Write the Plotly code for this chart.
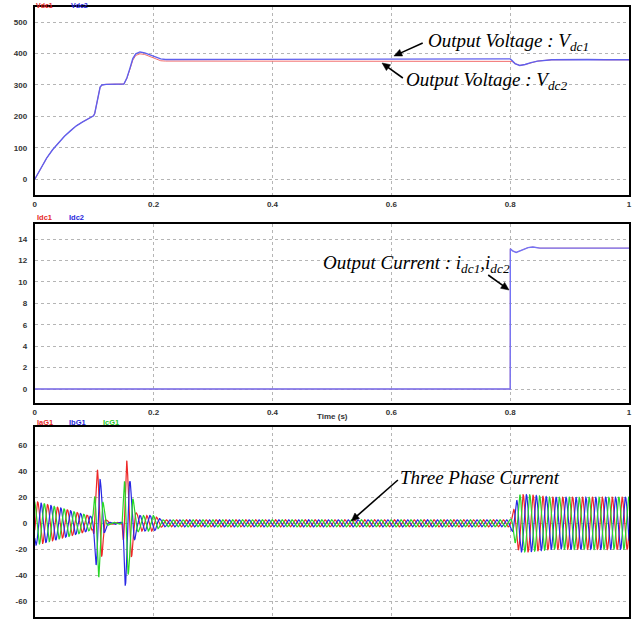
import numpy as np
import plotly.graph_objects as go

W, H = 643, 619

# ---------------- Panel 1: DC output voltages ----------------
t_v = [0, 0.01, 0.02, 0.03, 0.04, 0.05, 0.06, 0.07, 0.08, 0.09, 0.099, 0.101, 0.104, 0.107,
       0.110, 0.113, 0.120, 0.150, 0.155, 0.160, 0.165, 0.170, 0.177, 0.185, 0.195, 0.205,
       0.212, 0.220, 0.248, 0.252, 0.800, 0.803, 0.808, 0.816, 0.825, 0.835, 0.846, 0.870,
       0.900, 0.930, 0.960, 1.000]
vdc2 = [0, 36, 67, 94, 117, 137, 154, 170, 182, 193, 202, 210, 240, 275,
        293, 300, 302, 303, 322, 352, 384, 399, 405, 402, 394, 387,
        383, 381, 381, 383, 383, 378, 368, 362, 365, 371, 376, 380,
        381, 381, 380, 380]
vdc1 = [0, 36, 67, 94, 117, 137, 154, 170, 182, 193, 202, 210, 240, 275,
        293, 300, 302, 303, 321, 349, 379, 394, 399, 397, 389, 381,
        377, 376, 376, 376, 376, 375, 368, 362, 365, 371, 376, 380,
        381, 381, 380, 380]

# ---------------- Panel 2: DC output currents ----------------
t_i = [0, 0.8, 0.8002, 0.804, 0.81, 0.82, 0.83, 0.838, 0.85, 1.0]
idc1 = [0, 0, 13.1, 12.9, 12.75, 12.95, 13.2, 13.25, 13.15, 13.15]
idc2 = [0, 0, 13.1, 12.9, 12.75, 12.95, 13.2, 13.25, 13.15, 13.15]

# ---------------- Panel 3: three phase currents ----------------
# amplitude envelope, 60 Hz carrier, phase offsets in cycles
env_t = [0, 0.05, 0.098, 0.100, 0.104, 0.106, 0.108, 0.111, 0.114, 0.117, 0.120, 0.125,
         0.147, 0.149, 0.152, 0.155, 0.158, 0.161, 0.164, 0.167, 0.171, 0.175, 0.200,
         0.208, 0.215, 0.800, 0.803, 0.808, 0.815, 0.830, 0.870, 1.000]
env_a = [17, 11, 5, 20, 38, 43, 41, 31, 22, 9, 3, 0.8,
         0.8, 20, 48, 48, 37, 31, 23, 15, 8, 6, 6,
         4, 2.7, 2.7, 6, 15, 22, 22, 20, 20]
grid_freq = 60.0
phase_names = ["IaG1", "IbG1", "IcG1"]
phase_offsets = [-0.05, -0.383, 0.283]
phase_colors = ["rgb(238,40,40)", "rgb(40,40,228)", "rgb(40,215,40)"]

t_ph = np.arange(0, 1.0001, 0.0002)
amp = np.interp(t_ph, env_t, env_a)

# axis ticks
x_ticks = [0, 0.2, 0.4, 0.6, 0.8, 1.0]
x_tick_text = ["0", "0.2", "0.4", "0.6", "0.8", "1"]
y1_ticks = [0, 100, 200, 300, 400, 500]
y2_ticks = [0, 2, 4, 6, 8, 10, 12, 14]
y3_ticks = [-60, -40, -20, 0, 20, 40, 60]

fig = go.Figure()
fig.add_trace(go.Scatter(x=t_v, y=vdc1, mode="lines", line=dict(color="rgb(242,110,110)", width=1.0),
                         xaxis="x", yaxis="y", name="Vdc1"))
fig.add_trace(go.Scatter(x=t_v, y=vdc2, mode="lines", line=dict(color="rgb(95,95,238)", width=1.4),
                         xaxis="x", yaxis="y", name="Vdc2"))
fig.add_trace(go.Scatter(x=t_i, y=idc1, mode="lines", line=dict(color="rgb(242,110,110)", width=0.8),
                         xaxis="x2", yaxis="y2", name="Idc1"))
fig.add_trace(go.Scatter(x=t_i, y=idc2, mode="lines", line=dict(color="rgb(115,115,245)", width=1.4),
                         xaxis="x2", yaxis="y2", name="Idc2"))
for name, off, col in zip(phase_names, phase_offsets, phase_colors):
    y = amp * np.sin(2 * np.pi * (grid_freq * t_ph + off))
    fig.add_trace(go.Scatter(x=t_ph, y=y, mode="lines", line=dict(color=col, width=1.2),
                             xaxis="x3", yaxis="y3", name=name))

xdom = [33 / W, 632 / W]
def pdom(top, bot):
    return [1 - bot / H, 1 - top / H]

tickfont = dict(family="Liberation Sans", size=8, color="#333")
common_x = dict(range=[0, 1], tickvals=x_ticks, ticktext=["<b>%s</b>" % s for s in x_tick_text],
                showgrid=True, gridcolor="#b5b5b5", griddash="dot", gridwidth=1,
                showline=True, linecolor="black", linewidth=2, mirror=True, zeroline=False,
                tickfont=tickfont, ticks="", domain=xdom)
def yax(rng, ticks, dom):
    return dict(range=rng, tickvals=ticks, ticktext=["<b>%g</b>" % v for v in ticks],
                showgrid=True, gridcolor="#b5b5b5", griddash="dot", gridwidth=1,
                showline=True, linecolor="black", linewidth=2, mirror=True, zeroline=False,
                tickfont=tickfont, ticks="", ticklabelstandoff=4, domain=dom)

fig.update_layout(
    width=W, height=H, margin=dict(l=0, r=0, t=0, b=0),
    paper_bgcolor="white", plot_bgcolor="white", showlegend=False,
    xaxis=dict(common_x, anchor="y"),
    yaxis=yax([-50, 548], y1_ticks, pdom(7, 195)),
    xaxis2=dict(common_x, anchor="y2"),
    yaxis2=yax([-1.3, 15.4], y2_ticks, pdom(224, 403)),
    xaxis3=dict(common_x, anchor="y3", showticklabels=False),
    yaxis3=yax([-72, 74], y3_ticks, pdom(427, 617)),
)

def P(px, py):
    return px / W, 1 - py / H

ann = []
lab_font = lambda c: dict(family="Liberation Sans", size=7, color=c)
for txt, px, py, c in [("Vdc1", 32, 0, "rgb(230,40,40)"), ("Vdc2", 68, 0, "rgb(40,40,220)")]:
    x, y = P(px, py)
    ann.append(dict(x=x, y=y, xref="paper", yref="paper", text="<b>%s</b>" % txt, showarrow=False,
                    xanchor="left", yanchor="top", font=lab_font(c)))
for txt, px, py, c in [("Idc1", 33, 218, "rgb(230,40,40)"), ("Idc2", 66, 218, "rgb(40,40,220)"),
                       ("IaG1", 33, 422, "rgb(230,40,40)"), ("IbG1", 66, 422, "rgb(40,40,220)"),
                       ("IcG1", 100, 422, "rgb(40,200,40)")]:
    x, y = P(px, py)
    ann.append(dict(x=x, y=y, xref="paper", yref="paper", text="<b>%s</b>" % txt, showarrow=False,
                    xanchor="left", yanchor="middle", font=dict(lab_font(c), size=7.5)))
x, y = P(333, 416)
ann.append(dict(x=x, y=y, xref="paper", yref="paper", text="<b>Time (s)</b>", showarrow=False,
                xanchor="center", yanchor="middle", font=dict(family="Liberation Sans", size=8, color="#333")))

serif = dict(family="Liberation Serif", size=19, color="black")
for txt, px, py, sz in [("<i>Output Voltage : V<sub>dc1</sub></i>", 427, 42, 19),
                        ("<i>Output Voltage : V<sub>dc2</sub></i>", 405, 81, 19),
                        ("<i>Output Current : i<sub>dc1</sub>,i<sub>dc2</sub></i>", 322, 264, 19),
                        ("<i>Three Phase Current</i>", 399, 477, 19)]:
    x, y = P(px, py)
    ann.append(dict(x=x, y=y, xref="paper", yref="paper", text=txt, showarrow=False,
                    xanchor="left", yanchor="middle", font=dict(serif, size=sz)))

# arrows drawn as shapes (line + filled head), positions in page pixels
shapes = []
for hx, hy, tx, ty in [(395, 56, 424, 43), (383, 63, 404, 78), (511, 290, 490, 275), (352, 521, 399, 480)]:
    dx, dy = hx - tx, hy - ty
    L = (dx * dx + dy * dy) ** 0.5
    ux, uy = dx / L, dy / L
    hl, hw = 8.0, 3.6
    bx, by = hx - ux * hl, hy - uy * hl
    px_, py_ = -uy, ux
    x0, y0 = P(tx, ty)
    x1, y1 = P(bx + ux, by + uy)
    shapes.append(dict(type="line", xref="paper", yref="paper", x0=x0, y0=y0, x1=x1, y1=y1,
                       line=dict(color="black", width=1.6)))
    pts = [P(hx, hy), P(bx + px_ * hw, by + py_ * hw), P(bx - px_ * hw, by - py_ * hw)]
    path = "M %f %f L %f %f L %f %f Z" % (pts[0][0], pts[0][1], pts[1][0], pts[1][1], pts[2][0], pts[2][1])
    shapes.append(dict(type="path", xref="paper", yref="paper", path=path,
                       fillcolor="black", line=dict(color="black", width=0.5)))

fig.update_layout(annotations=ann, shapes=shapes)
fig.write_html("out.html", config={"displayModeBar": False},
               post_script="document.body.style.margin='0';document.body.style.overflow='hidden';")
